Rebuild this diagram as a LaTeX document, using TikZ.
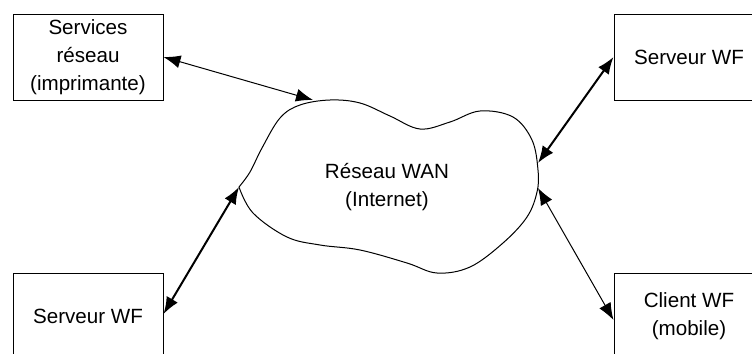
\documentclass[tikz,border=0pt]{standalone}
\usepackage{fontspec}
\setmainfont{Liberation Sans}
\usetikzlibrary{arrows.meta}

\begin{document}
\begin{tikzpicture}[x=0.5pt,y=-0.5pt,
  boite/.style={rectangle,draw=black,line width=0.5pt,minimum width=75pt,minimum height=43pt,align=center,font=\fontsize{10.3}{14}\selectfont,inner sep=0pt},
  fleche/.style={{Latex[length=8.5pt,width=6.5pt]}-{Latex[length=8.5pt,width=6.5pt]},line width=0.5pt},
  grossefleche/.style={fleche,line width=1pt}]
                      \clip (0,0) rectangle (752,354);
                      \fill[white] (0,0) rectangle (752,354);
                      % nuage du reseau
                      \draw[line width=0.5pt] plot[smooth,tension=0.6] coordinates {(239,187) (250,172) (262,148) (280,118) (300,105) (330,100) (360,103) (390,116) (420,129) (450,122) (480,111) (513,117) (532,140) (538,170) (537,192) (527,217) (503,243) (470,267) (437,273) (407,263) (360,250) (320,245) (287,237) (253,213) (239,187)};
                      \node (wan) at (387,187) [align=center,font=\fontsize{10.3}{14}\selectfont] {Réseau WAN\\(Internet)};
                      \coordinate (wanNord) at (313,100);
                      \coordinate (wanEstHaut) at (538,163);
                      \coordinate (wanEstBas) at (538,188);
                      \coordinate (wanOuest) at (239,187);
                      % les postes
                      \node (services) at (88,57) [boite] {Services\\réseau\\(imprimante)};
                      \node (serveurHaut) at (689,57) [boite] {Serveur WF};
                      \node (serveurBas) at (88,316) [boite] {Serveur WF};
                      \node (client) at (689,316) [boite] {Client WF\\(mobile)};
                      % liaisons
                      \draw[fleche] (services.east) -- (wanNord);
                      \draw[grossefleche] (serveurHaut.west) -- (wanEstHaut);
                      \draw[grossefleche] (wanOuest) -- ([yshift=1pt]serveurBas.east);
                      \draw[fleche] (wanEstBas) -- ([yshift=-2pt]client.west);
                \end{tikzpicture}
\end{document}
